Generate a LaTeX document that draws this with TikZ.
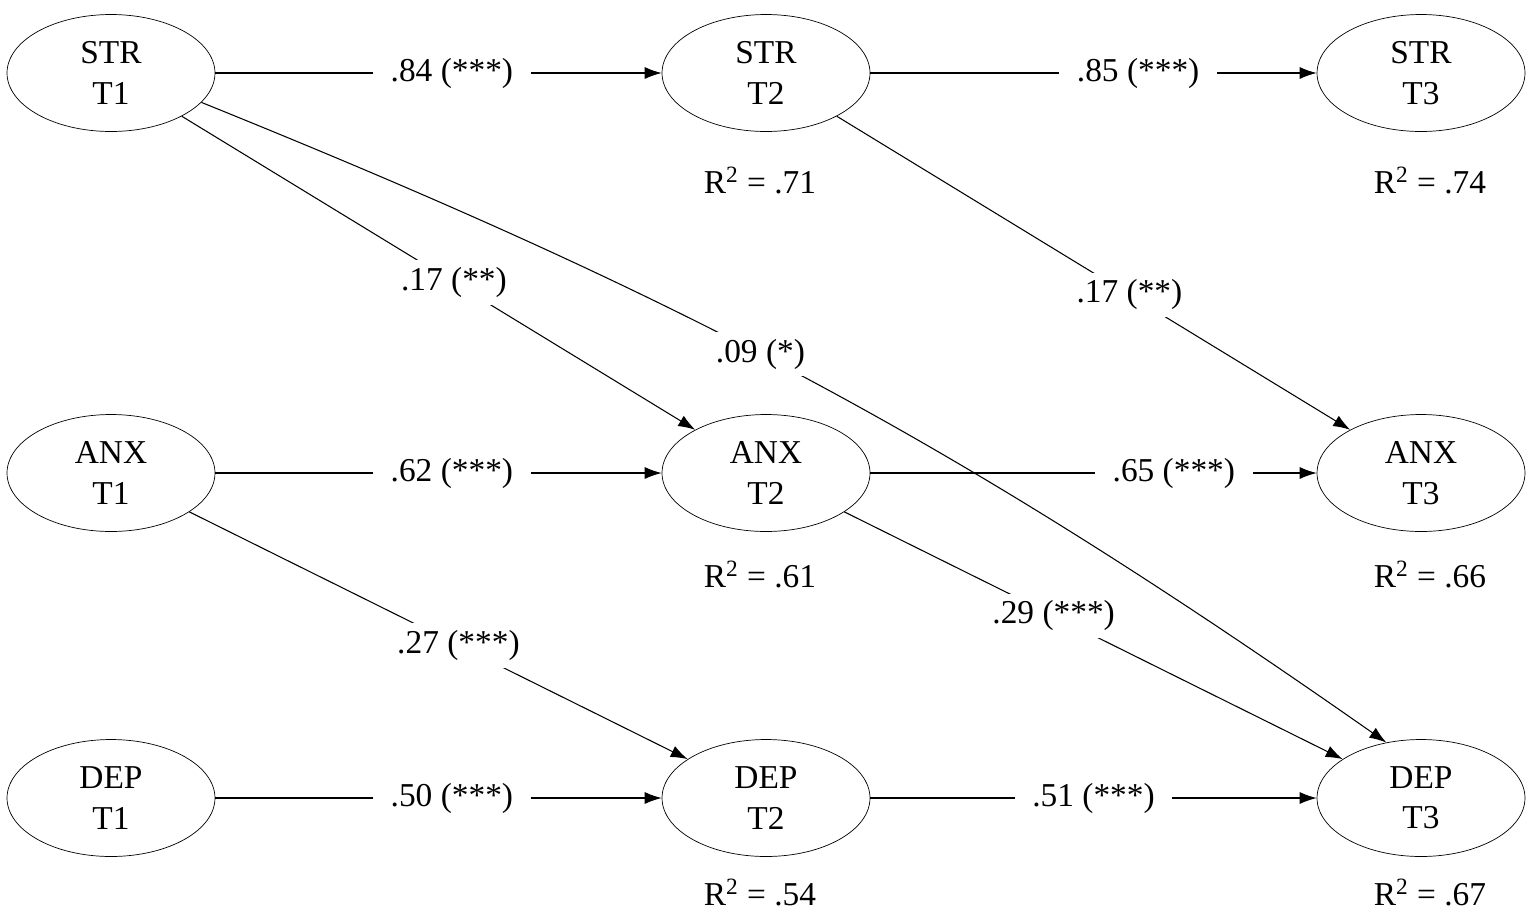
\documentclass[tikz,border=0pt]{standalone}
\usepackage{fontspec}
\setmainfont{Liberation Serif}
\usetikzlibrary{shapes.geometric,arrows.meta}
\begin{document}
\begin{tikzpicture}[x=0.02cm,y=-0.02cm,>={Latex[length=0.34cm,width=0.24cm]},
  lat/.style={ellipse,draw,minimum width=4.16cm,minimum height=2.34cm,align=center,font=\fontsize{19}{23}\selectfont},
  lbl/.style={fill=white,inner xsep=10pt,inner ysep=4pt,font=\fontsize{19}{23}\selectfont},
  rsq/.style={font=\fontsize{19}{23}\selectfont},
  path/.style={->,line width=0.6pt}]
\useasboundingbox (0,0) rectangle (1535,914);
\node[lat] (s1) at (111,73) {STR\\T1};
\node[lat] (s2) at (766,73) {STR\\T2};
\node[lat] (s3) at (1421,73) {STR\\T3};
\node[lat] (a1) at (111,473) {ANX\\T1};
\node[lat] (a2) at (766,473) {ANX\\T2};
\node[lat] (a3) at (1421,473) {ANX\\T3};
\node[lat] (d1) at (111,798) {DEP\\T1};
\node[lat] (d2) at (766,798) {DEP\\T2};
\node[lat] (d3) at (1421,798) {DEP\\T3};
\node[rsq] (r1) at (760,180) {R\textsuperscript{2} = .71};
\node[rsq] (r2) at (1430,180) {R\textsuperscript{2} = .74};
\node[rsq] (r3) at (760,574) {R\textsuperscript{2} = .61};
\node[rsq] (r4) at (1430,574) {R\textsuperscript{2} = .66};
\node[rsq] (r5) at (760,892) {R\textsuperscript{2} = .54};
\node[rsq] (r6) at (1430,892) {R\textsuperscript{2} = .67};
\draw[path] (s1) -- node[lbl,pos=0.53] {.84 (***)} (s2);
\draw[path] (s2) -- node[lbl,pos=0.6] {.85 (***)} (s3);
\draw[path] (a1) -- node[lbl,pos=0.53] {.62 (***)} (a2);
\draw[path] (d1) -- node[lbl,pos=0.53] {.50 (***)} (d2);
\draw[path] (d2) -- node[lbl,pos=0.5] {.51 (***)} (d3);
\draw[path] (s1) -- node[lbl,pos=0.53] {.17 (**)} (a2);
\draw[path] (s2) -- node[lbl,pos=0.57] {.17 (**)} (a3);
\draw[path] (a1) -- node[lbl,pos=0.54] {.27 (***)} (d2);
\draw[path] (a2) -- node[lbl,pos=0.42] {.29 (***)} (d3);
\draw[path] (s1.342) to[out=-22,in=145] node[lbl,pos=0.45] {.09 (*)} (d3.122);
\draw[path] (a2) -- node[lbl,pos=0.68] {.65 (***)} (a3);
\end{tikzpicture}
\end{document}
